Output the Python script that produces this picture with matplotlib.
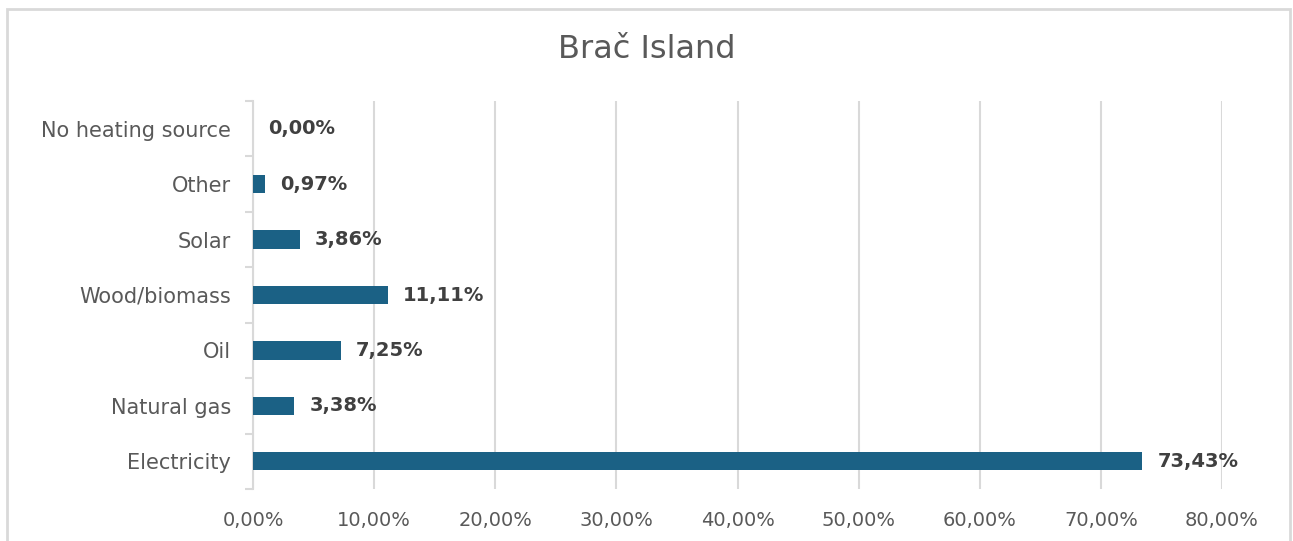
import matplotlib.pyplot as plt
from matplotlib.patches import Rectangle
from matplotlib.ticker import FuncFormatter
import numpy as np

plt.rcParams['font.family'] = ['DejaVu Sans']

# data, bottom to top as drawn
categories = ['Electricity', 'Natural gas', 'Oil', 'Wood/biomass', 'Solar', 'Other', 'No heating source']
values = [73.43, 3.38, 7.25, 11.11, 3.86, 0.97, 0.00]
xticks = [0, 10, 20, 30, 40, 50, 60, 70, 80]
title = 'Brač Island'

barColor = '#1b6185'
gridColor = '#d9d9d9'

fig = plt.figure(figsize=(12.93, 5.41), dpi=100)
ax = fig.add_axes([253/1293, 1-489/541, (1222-253)/1293, 388/541])

# outer border like the excel chart frame
fig.patches.append(Rectangle((7/1293, -0.1), (1290-7)/1293, 1.1-9/541, transform=fig.transFigure,
                             fill=False, edgecolor='#d9d9d9', linewidth=2, clip_on=False))

y = np.arange(len(categories))
ax.barh(y, values, height=0.33, color=barColor, zorder=3)

for yi, v in zip(y, values):
    ax.annotate(f'{v:.2f}%'.replace('.', ','), (v, yi), xytext=(11, 0), textcoords='offset points',
                va='center', ha='left', fontsize=14, fontweight='bold', color='#404040')

ax.set_xlim(0, 80)
ax.set_ylim(-0.5, len(categories)-0.5)
ax.set_xticks(xticks)
ax.xaxis.set_major_formatter(FuncFormatter(lambda x, p: f'{x:.2f}%'.replace('.', ',')))
ax.set_yticks(y)
ax.set_yticklabels(categories)
ax.set_yticks(np.arange(-0.5, len(categories), 1), minor=True)

ax.tick_params(axis='x', length=0, pad=16, labelsize=14, labelcolor='#595959')
ax.tick_params(axis='y', which='major', length=0, pad=16, labelsize=15, labelcolor='#595959')
ax.tick_params(axis='y', which='minor', length=6, width=1.5, color=gridColor, direction='out')

ax.grid(axis='x', color=gridColor, linewidth=1.5, zorder=0)
ax.set_axisbelow(True)
for s in ['top', 'right', 'bottom']:
    ax.spines[s].set_visible(False)
ax.spines['left'].set_color(gridColor)
ax.spines['left'].set_linewidth(1.5)

fig.text(0.5, 1-49/541, title, ha='center', va='center', fontsize=23, color='#595959')

fig.savefig('out.png', dpi=100)
